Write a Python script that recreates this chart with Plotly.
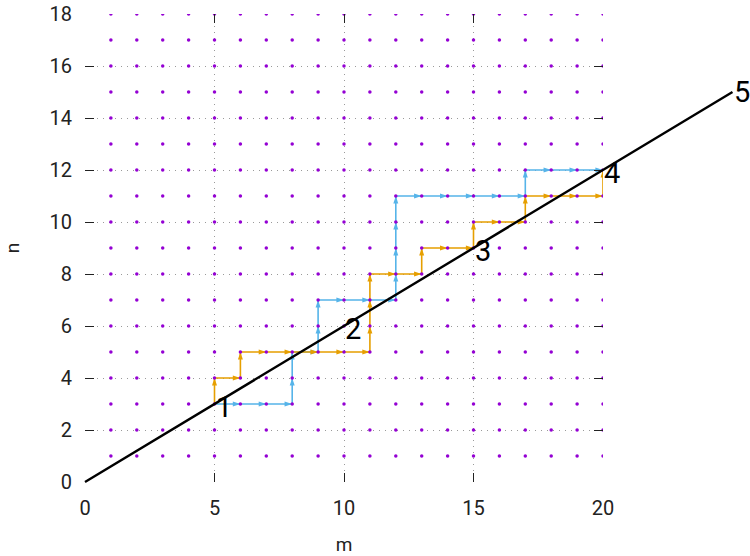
import math
import plotly.graph_objects as go

# lattice of points (m, n)
grid_m = list(range(1, 21))
grid_n = list(range(1, 19))

# orange lattice path
orange_m = [5, 5, 6, 6, 7, 8, 9, 10, 11, 11, 11, 11, 12, 13, 13, 14, 15, 15, 16, 17, 17, 18, 19, 20, 20]
orange_n = [3, 4, 4, 5, 5, 5, 5, 5, 5, 6, 7, 8, 8, 8, 9, 9, 9, 10, 10, 10, 11, 11, 11, 11, 12]

# blue lattice path
blue_m = [5, 6, 7, 8, 8, 8, 9, 9, 9, 10, 11, 12, 12, 12, 12, 12, 13, 14, 15, 16, 17, 17, 18, 19, 20]
blue_n = [3, 3, 3, 3, 4, 5, 5, 6, 7, 7, 7, 7, 8, 9, 10, 11, 11, 11, 11, 11, 11, 12, 12, 12, 12]

# diagonal line and its labels
line_m = [0, 25]
line_n = [0, 15]
label_m = [5, 10, 15, 20, 25]
label_n = [3, 6, 9, 12, 15]
label_text = ["1", "2", "3", "4", "5"]

x_ticks = [0, 5, 10, 15, 20]
y_ticks = [0, 2, 4, 6, 8, 10, 12, 14, 16, 18]

BLUE = "#56B4E9"
ORANGE = "#E69F00"
PURPLE = "#9400D3"
FONT = "Roboto"

dots_x = [m for n in grid_n for m in grid_m]
dots_y = [n for n in grid_n for m in grid_m]

fig = go.Figure()


def add_path(xs, ys, color):
    fig.add_trace(go.Scatter(
        x=xs, y=ys, mode="lines",
        line=dict(color=color, width=1.6),
        hoverinfo="skip", showlegend=False,
    ))
    # arrowhead at the end of every unit step, direction taken from the step
    angles = []
    for i in range(1, len(xs)):
        dx = xs[i] - xs[i - 1]
        dy = ys[i] - ys[i - 1]
        angles.append(math.degrees(math.atan2(dx, dy)))
    fig.add_trace(go.Scatter(
        x=xs[1:], y=ys[1:], mode="markers",
        marker=dict(symbol="arrow", angle=angles, color=color,
                    size=8, line=dict(width=0)),
        hoverinfo="skip", showlegend=False,
    ))


add_path(blue_m, blue_n, BLUE)
add_path(orange_m, orange_n, ORANGE)

fig.add_trace(go.Scatter(
    x=dots_x, y=dots_y, mode="markers",
    marker=dict(symbol="circle", size=3.5, color=PURPLE, line=dict(width=0)),
    hoverinfo="skip", showlegend=False,
))

annotations = []
# black diagonal line, drawn as an annotation so it can run past the axis range;
# its text is the label at the far end
annotations.append(dict(
    x=line_m[0], y=line_n[0], xref="x", yref="y",
    ax=line_m[1], ay=line_n[1], axref="x", ayref="y",
    showarrow=True, arrowhead=0, arrowwidth=2.4, arrowcolor="black",
    text=label_text[-1], xanchor="left", yanchor="middle",
    borderpad=0,
    font=dict(family=FONT, size=29, color="black"),
))
for mx, ny, t in zip(label_m[:-1], label_n[:-1], label_text[:-1]):
    annotations.append(dict(
        x=mx, y=ny, xref="x", yref="y", text=t, showarrow=False,
        xanchor="left", yanchor="middle", yshift=-3, borderpad=0,
        font=dict(family=FONT, size=29, color="black"),
    ))

axis_common = dict(
    showline=False, zeroline=False, showgrid=True, automargin=False,
    gridcolor="#9a9a9a", griddash="1px,5px", gridwidth=1,
    ticks="inside", ticklen=9, tickwidth=1.2, tickcolor="#222222",
    mirror="ticks", ticklabeloverflow="allow",
    tickfont=dict(family=FONT, size=20, color="#222222"),
)

fig.update_layout(
    width=750, height=556,
    margin=dict(l=85, r=147, t=14, b=74),
    paper_bgcolor="white", plot_bgcolor="white",
    font=dict(family=FONT, size=20, color="#222222"),
    annotations=annotations,
    xaxis=dict(range=[0, 20], tickvals=x_ticks,
               title=dict(text="m", font=dict(family=FONT, size=19), standoff=19),
               ticklabelstandoff=12, **axis_common),
    yaxis=dict(range=[0, 18], tickvals=y_ticks,
               title=dict(text="n", font=dict(family=FONT, size=19), standoff=24),
               ticklabelstandoff=12, **axis_common),
)

# remove the default 8px page margin so the figure sits at the window origin
fig.write_html("out.html", config={"displayModeBar": False},
               post_script="document.body.style.margin='0';")
